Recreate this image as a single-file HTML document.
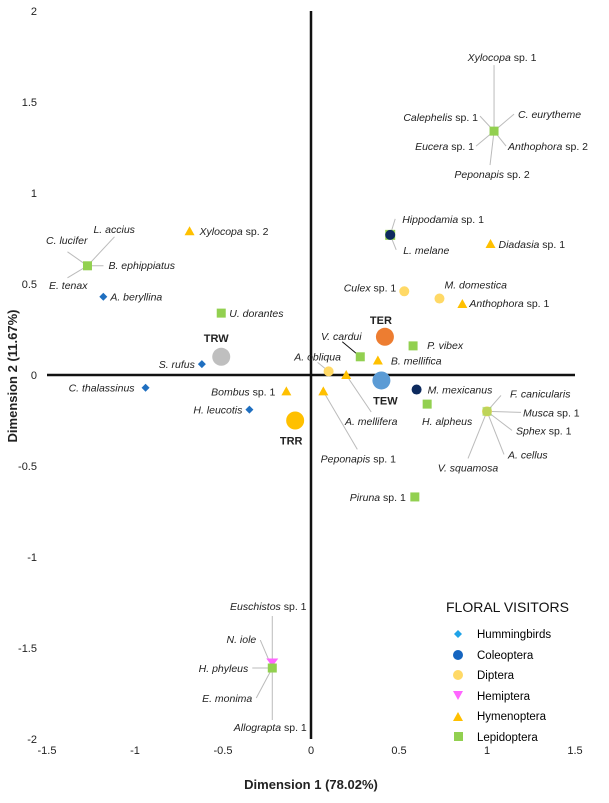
<!DOCTYPE html>
<html><head><meta charset="utf-8"><style>
html,body{margin:0;padding:0;background:#fff;}
svg{display:block;font-family:"Liberation Sans",Arial,sans-serif;}
</style></head><body>
<svg id="chart" width="609" height="803" viewBox="0 0 609 803">
<g id="axes"></g>
<g id="leaders"></g>
<g id="marks"></g>
<g id="labels"></g>
<text x="311" y="789" text-anchor="middle" font-size="13" font-weight="bold" fill="#222">Dimension 1 (78.02%)</text>
<text transform="translate(17,376) rotate(-90)" text-anchor="middle" font-size="13" font-weight="bold" fill="#222">Dimension 2 (11.67%)</text>
<g>
<text x="446" y="612" font-size="14" fill="#111">FLORAL VISITORS</text>
<g><path d="M458,630 l4,4 l-4,4 l-4,-4z" fill="#1fa3e8"/><text x="477" y="638" font-size="11.5">Hummingbirds</text></g>
<g><circle cx="458" cy="655" r="5" fill="#1565c0"/><text x="477" y="659" font-size="11.5">Coleoptera</text></g>
<g><circle cx="458" cy="675" r="5" fill="#ffd966"/><text x="477" y="679" font-size="11.5">Diptera</text></g>
<g><path d="M453,691 h10 l-5,9z" fill="#ff66ff"/><text x="477" y="700" font-size="11.5">Hemiptera</text></g>
<g><path d="M453,721 h10 l-5,-9z" fill="#ffc000"/><text x="477" y="720" font-size="11.5">Hymenoptera</text></g>
<g><rect x="454" y="732" width="9" height="9" fill="#92d050"/><text x="477" y="741" font-size="11.5">Lepidoptera</text></g>
</g>
</svg>
<script>
const pointNames = ["cluster-lucifer","A. beryllina","Xylocopa sp. 2","U. dorantes","TRW","S. rufus","C. thalassinus","Bombus sp. 1","H. leucotis","TRR","cluster-xylocopa1","Hippodamia sp. 1","Diadasia sp. 1","Culex sp. 1","M. domestica","Anthophora sp. 1","TER","P. vibex","V. cardui","B. mellifica","A. obliqua","A. mellifera","TEW","Peponapis sp. 1","M. mexicanus","H. alpheus","cluster-musca","Piruna sp. 1","cluster-euschistos-hemi","cluster-euschistos"];
const xValues = [-1.27,-1.18,-0.69,-0.51,-0.51,-0.62,-0.94,-0.14,-0.35,-0.09,1.04,0.45,1.02,0.53,0.73,0.86,0.42,0.58,0.28,0.38,0.10,0.20,0.40,0.07,0.60,0.66,1.00,0.59,-0.22,-0.22];
const yValues = [0.60,0.43,0.79,0.34,0.10,0.06,-0.07,-0.09,-0.19,-0.25,1.34,0.77,0.72,0.46,0.42,0.39,0.21,0.16,0.10,0.08,0.02,0.00,-0.03,-0.09,-0.08,-0.16,-0.20,-0.67,-1.58,-1.61];
const groups = ["lep","hum","hym","lep","TRW","hum","hum","hym","hum","TRR","lep","col","hym","dip","dip","hym","TER","lep","lep","hym","dip","hym","TEW","hym","col","lep","dip","lep","hem","lep"];
const xTicks = [-1.5,-1,-0.5,0,0.5,1,1.5];
const xTickLabels = ["-1.5","-1","-0.5","0","0.5","1","1.5"];
const yTicks = [2,1.5,1,0.5,0,-0.5,-1,-1.5,-2];
const yTickLabels = ["2","1.5","1","0.5","0","-0.5","-1","-1.5","-2"];

const X0=311, XS=176, Y0=375, YS=182;
function sx(v){return X0+v*XS;}
function sy(v){return Y0-v*YS;}
const NS="http://www.w3.org/2000/svg";
function mk(tag,attrs,parent){const e=document.createElementNS(NS,tag);for(const k in attrs)e.setAttribute(k,attrs[k]);parent.appendChild(e);return e;}

const axes=document.getElementById('axes');
let ln=mk('line',{x1:sx(-1.5),x2:sx(1.5),y1:sy(0),y2:sy(0),stroke:'#111','stroke-width':2.5},axes);


ln=mk('line',{x1:sx(0),x2:sx(0),y1:sy(2),y2:sy(-2),stroke:'#111','stroke-width':2.5},axes);


xTicks.forEach((t,i)=>{const e=mk('text',{x:sx(t),y:754,'text-anchor':'middle','font-size':11,fill:'#222'},axes);e.textContent=xTickLabels[i];

});
yTicks.forEach((t,i)=>{const e=mk('text',{x:37,y:sy(t)+4,'text-anchor':'end','font-size':11,fill:'#222'},axes);e.textContent=yTickLabels[i];

});

const marks=document.getElementById('marks');
const P=[];
for(let i=0;i<xValues.length;i++){
  const x=sx(xValues[i]),y=sy(yValues[i]);P.push([x,y]);
  const g=groups[i];let e;
  if(g==='lep') e=mk('rect',{x:x-4.5,y:y-4.5,width:9,height:9,fill:'#92d050'},marks);
  else if(g==='hum') e=mk('path',{d:`M${x},${y-4} l4,4 l-4,4 l-4,-4z`,fill:'#1f6fc0'},marks);
  else if(g==='hym') e=mk('path',{d:`M${x-5},${y+4} h10 l-5,-9z`,fill:'#ffc000'},marks);
  else if(g==='hem') e=mk('path',{d:`M${x-6},${y-4} h12 l-6,8z`,fill:'#ff66ff'},marks);
  else if(g==='dip') e=mk('circle',{cx:x,cy:y,r:5,fill:'#ffd966'},marks);
  else if(g==='col') e=mk('circle',{cx:x,cy:y,r:5,fill:'#0d2a5e'},marks);
  else {const c={TRW:'#bfbfbf',TRR:'#ffc000',TER:'#ed7d31',TEW:'#5b9bd5'}[g];e=mk('circle',{cx:x,cy:y,r:9,fill:c},marks);}
  
  
}
// extra overlays inside clusters
(function(){const [x,y]=P[11];const e=mk('rect',{x:x-5,y:y-5,width:10,height:10,fill:'#92d050'},marks);marks.insertBefore(e,marks.children[11]);

})();
(function(){const [x,y]=P[26];const e=mk('rect',{x:x-4.5,y:y-4.5,width:9,height:9,fill:'#92d050',opacity:0.6},marks);

})();

// label layout: [pointIndex, text, dx, dy, anchor, leaderDx, leaderDy, bold]
const labelLayout=[
[0,"L. accius",6,-33,"start",27,-29],[0,"C. lucifer",0,-22,"end",-20,-14],[0,"B. ephippiatus",21,3,"start",16,0],[0,"E. tenax",0,23,"end",-20,12],
[1,"A. beryllina",7,4,"start"],[2,"Xylocopa sp. 2",10,4,"start"],[3,"U. dorantes",8,4,"start"],
[4,"TRW",-5,-15,"middle",null,null,1],[5,"S. rufus",-7,4,"end"],[6,"C. thalassinus",-11,4,"end"],[7,"Bombus sp. 1",-11,4,"end"],[8,"H. leucotis",-7,4,"end"],[9,"TRR",-4,24,"middle",null,null,1],
[10,"Xylocopa sp. 1",8,-70,"middle",0,-66],[10,"Calephelis sp. 1",-16,-10,"end",-14,-15],[10,"C. eurytheme",24,-13,"start",20,-17],[10,"Eucera sp. 1",-20,19,"end",-18,15],[10,"Anthophora sp. 2",14,19,"start",12,15],[10,"Peponapis sp. 2",-2,47,"middle",-4,34],
[11,"Hippodamia sp. 1",12,-12,"start",5,-16],[11,"L. melane",13,19,"start",6,15],[12,"Diadasia sp. 1",8,4,"start"],
[13,"Culex sp. 1",-8,0,"end"],[14,"M. domestica",5,-10,"start"],[15,"Anthophora sp. 1",7,3,"start"],
[16,"TER",-4,-13,"middle",null,null,1],[17,"P. vibex",14,3,"start"],[18,"V. cardui",-19,-17,"middle",-18,-15],[19,"B. mellifica",13,4,"start"],
[20,"A. obliqua",-11,-11,"middle",-11,-9],[21,"A. mellifera",25,50,"middle",25,37],[22,"TEW",4,24,"middle",null,null,1],[23,"Peponapis sp. 1",35,71,"middle",34,58],
[24,"M. mexicanus",11,4,"start"],[25,"H. alpheus",20,21,"middle"],
[26,"F. canicularis",23,-14,"start",14,-16],[26,"Musca sp. 1",36,5,"start",34,1],[26,"Sphex sp. 1",29,23,"start",25,19],[26,"A. cellus",21,47,"start",17,43],[26,"V. squamosa",-19,60,"middle",-19,47],
[27,"Piruna sp. 1",-9,4,"end"],
[29,"Euschistos sp. 1",-4,-58,"middle",0,-52],[29,"N. iole",-16,-25,"end",-12,-28],[29,"H. phyleus",-24,4,"end",-20,0],[29,"E. monima",-20,34,"end",-16,30],[29,"Allograpta sp. 1",-2,63,"middle",0,52]
];
const leaders=document.getElementById('leaders'),labels=document.getElementById('labels');
labelLayout.forEach(l=>{
  const [x,y]=P[l[0]];
  if(l[5]!=null && l[5]!==undefined){const e=mk('line',{x1:x,y1:y,x2:x+l[5],y2:y+l[6],stroke:l[1]==="V. cardui"?'#111':'#bbb','stroke-width':1},leaders);
    
    }
  const t=mk('text',{x:x+l[2],y:y+l[3],'text-anchor':l[4],'font-size':l[7]?11:10.5,fill:'#222'},labels);
  if(l[7]){t.setAttribute('font-weight','bold');t.textContent=l[1];}
  else{const m=l[1].split(/ (sp\. \d)$/);const a=mk('tspan',{'font-style':'italic'},t);a.textContent=m[0];
    if(m[1]){const b=mk('tspan',{},t);b.textContent=' '+m[1];}}
  
  
});
</script>
</body></html>
